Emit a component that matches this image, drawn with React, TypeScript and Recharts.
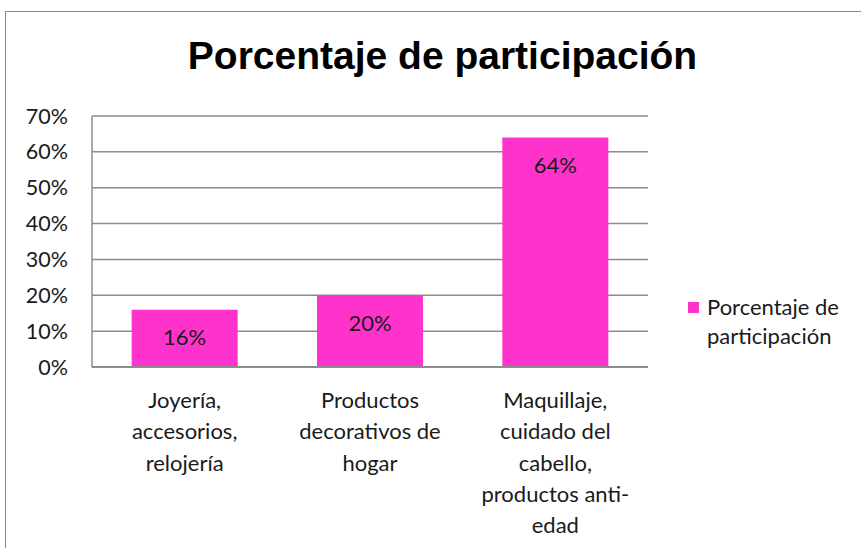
import { BarChart, Bar, XAxis, YAxis, CartesianGrid, LabelList, Legend } from 'recharts';

const categories = [
  'Joyería,\naccesorios,\nrelojería',
  'Productos\ndecorativos de\nhogar',
  'Maquillaje,\ncuidado del\ncabello,\nproductos anti-\nedad',
];
const participacion = [16, 20, 64];
const yTicks = [0, 10, 20, 30, 40, 50, 60, 70];

const seriesName = 'Porcentaje de participación';
const BAR_COLOR = '#ff33cc';
const GRID_COLOR = '#8c8c8c';
const FONT = 'Lato, "Open Sans", sans-serif';

const data = categories.map((c, i) => ({ category: c, value: participacion[i] }));

function CategoryTick({ x, y, payload }: any) {
  const lines = String(payload.value).split('\n');
  return (
    <text x={x} y={y} textAnchor="middle" fontFamily={FONT} fontSize={22} fill="#1a1a1a">
      {lines.map((line, i) => (
        <tspan key={i} x={x} dy={i === 0 ? 33 : 31.3}>
          {line}
        </tspan>
      ))}
    </text>
  );
}

function LegendBox() {
  return (
    <div style={{ display: 'flex', alignItems: 'flex-start', fontFamily: FONT, fontSize: 22, color: '#1a1a1a', lineHeight: '29px' }}>
      <span style={{ width: 11, height: 11, background: BAR_COLOR, marginTop: 10, marginRight: 8, flexShrink: 0 }} />
      <span>
        Porcentaje de
        <br />
        participación
      </span>
    </div>
  );
}

export default function App() {
  return (
    <div style={{ position: 'absolute', left: 0, top: 0, width: 861, height: 548, overflow: 'hidden', background: '#fff' }}>
      <div
        style={{
          position: 'absolute',
          left: 5,
          top: 11,
          width: 880,
          height: 560,
          border: '1.5px solid #878787',
          boxSizing: 'border-box',
        }}
      />
      <div
        style={{
          position: 'absolute',
          left: 5,
          width: 875,
          top: 30,
          textAlign: 'center',
          fontFamily: '"Liberation Sans", Arial, sans-serif',
          fontWeight: 'bold',
          fontSize: 39,
          lineHeight: '52px',
          color: '#000',
        }}
      >
        {seriesName}
      </div>
      <div style={{ position: 'absolute', left: 0, top: 0 }}>
        <BarChart
          width={861}
          height={548}
          data={data}
          // legend box (170px wide) is added to the right offset by recharts
          margin={{ top: 116, right: 43, bottom: 0, left: 0 }}
          barCategoryGap="21.4%"
        >
          <CartesianGrid vertical={false} stroke={GRID_COLOR} strokeWidth={1.5} />
          <XAxis
            dataKey="category"
            tick={<CategoryTick />}
            tickLine={false}
            axisLine={{ stroke: GRID_COLOR, strokeWidth: 2 }}
            interval={0}
            height={181}
          />
          <YAxis
            width={92}
            domain={[0, 70]}
            ticks={yTicks}
            interval={0}
            tickFormatter={(v: number) => `${v}%`}
            tickLine={false}
            tickSize={0}
            tickMargin={24}
            axisLine={{ stroke: GRID_COLOR, strokeWidth: 1.5 }}
            tick={{ fontFamily: FONT, fontSize: 21.5, fill: '#1a1a1a' }}
          />
          <Legend
            layout="horizontal"
            align="right"
            verticalAlign="middle"
            content={<LegendBox />}
            wrapperStyle={{ left: 688, top: 292, width: 170 }}
          />
          <Bar dataKey="value" name={seriesName} fill={BAR_COLOR} isAnimationActive={false}>
            <LabelList
              dataKey="value"
              position="insideTop"
              offset={20}
              formatter={(v: any) => `${v}%`}
              style={{ fontFamily: FONT, fontSize: 22, fill: '#1a1a1a' }}
            />
          </Bar>
        </BarChart>
      </div>
    </div>
  );
}
